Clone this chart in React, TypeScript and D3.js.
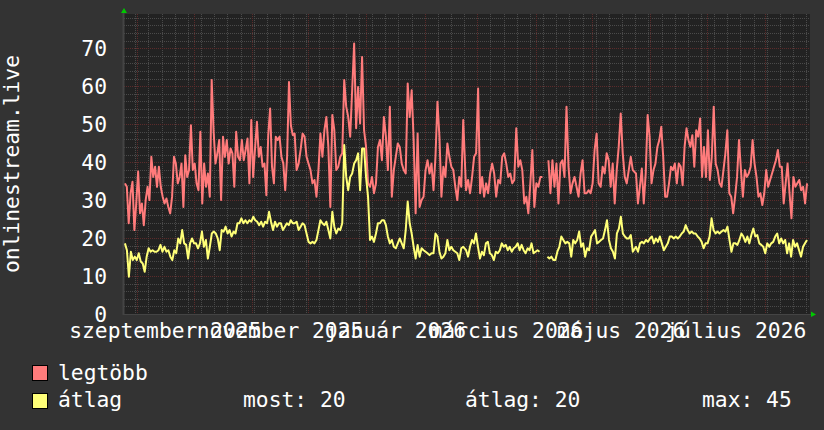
import React from 'react';
import * as d3 from 'd3';

// legtöbb (max) series, read in four date segments
const legtobb1 = [34.4, 33.5, 23.9, 31.8, 34.8, 22.1, 29.1, 37.5, 26.5, 29.1, 23.4, 30.0, 33.5, 30.0, 41.4, 36.1, 38.8, 33.5, 38.8, 33.5, 30.9, 29.1, 30.4, 28.2, 26.5, 30.9, 41.4, 39.6, 34.4, 36.1, 39.6, 28.2, 41.8, 36.1, 37.9, 49.7, 37.9, 39.6, 34.4, 32.6, 48.0, 29.1, 39.6, 33.5, 37.0, 30.9, 61.6, 48.4, 39.6, 42.3, 45.8, 30.0, 46.7, 41.4, 45.8, 39.6, 43.6, 42.3, 33.5, 48.0, 41.4, 40.5, 45.8, 40.5, 43.2, 46.2, 34.4, 51.1, 36.1, 43.6, 50.6, 41.4, 44.0, 38.8, 39.6, 31.3, 47.1, 54.1, 38.8, 34.4, 46.7, 45.8, 46.7, 41.4, 39.6, 32.6, 41.4, 61.1, 49.7, 47.1];
const legtobb2 = [47.5, 37.9, 39.6, 43.2, 47.5, 46.7, 41.4, 39.6, 37.9, 34.4, 35.3, 30.9, 37.9, 47.5, 41.4, 48.4, 51.9, 44.0, 28.2, 52.4, 48.4, 37.9, 38.8, 41.4, 42.3, 61.6, 54.6, 51.9, 46.7, 58.9, 71.2, 48.9, 59.8, 50.2, 67.7, 48.4, 44.0, 34.4, 33.5, 36.1, 31.8, 34.4, 44.0, 45.8, 40.5, 51.9, 46.7, 37.9, 54.6, 30.9, 37.9, 41.4, 44.9, 44.0, 39.6, 37.9, 37.0, 60.7, 51.9, 58.9, 45.8, 26.5, 47.5, 28.2, 30.0, 30.9, 37.9, 40.5, 37.0, 39.6, 32.6, 41.4, 55.9, 46.7, 30.9, 38.8, 36.1, 44.9, 41.4, 38.8, 37.9, 33.5, 30.0, 36.1, 33.5, 51.1];
const legtobb3 = [32.6, 35.3, 31.8, 36.1, 41.4, 42.3, 59.4, 31.8, 36.1, 30.9, 34.4, 31.8, 37.0, 39.6, 37.0, 30.9, 35.3, 34.4, 41.4, 42.3, 39.6, 36.1, 37.0, 34.4, 35.3, 48.9, 38.8, 40.5, 37.9, 29.1, 30.9, 26.5, 34.4, 43.2, 28.2, 34.4, 33.5, 36.1, 36.1, NaN, NaN, 40.5, 31.8, 40.5, 33.5, 39.6, 29.1, 39.6, 40.5, 36.1, 54.6, 38.8, 31.8, 34.4, 36.1, 33.5, 30.9, 37.0, 40.5, 31.8, 31.8, 32.6, 31.8, 34.4, 43.2, 47.5, 34.4, 33.5, 38.8, 37.0, 42.3, 40.5, 33.5, 39.6, 29.1, 37.9, 44.0, 52.8, 42.3, 36.1, 34.4, 37.9, 41.4, 37.9];
const legtobb4 = [37.0, 29.1, 33.5, 38.3, 29.1, 37.0, 52.4, 46.7, 34.4, 37.9, 39.6, 44.0, 45.8, 49.3, 41.4, 30.9, 30.9, 34.4, 38.8, 37.9, 39.6, 34.4, 39.6, 38.8, 33.9, 44.0, 48.9, 45.8, 44.0, 47.1, 38.8, 48.4, 46.7, 51.5, 36.1, 44.0, 36.1, 48.4, 35.3, 41.4, 54.6, 39.6, 37.9, 34.4, 33.5, 37.9, 42.3, 48.4, 31.8, 30.9, 26.5, 30.9, 36.1, 45.8, 37.9, 30.9, 37.9, 36.1, 37.0, 38.8, 45.8, 39.6, 36.1, 30.9, 31.8, 28.7, 31.8, 37.9, 33.5, 35.3, 37.0, 38.8, 40.5, 43.2, 38.8, 38.8, 29.1, 34.4, 39.6, 31.8, 25.2, 36.1, 33.5, 34.4, 35.3, 32.6, 33.5, 29.1, 34.4];

// átlag (average) series
const atlag1 = [18.6, 16.8, 9.8, 16.4, 14.2, 15.1, 14.2, 16.0, 13.8, 13.3, 11.1, 15.1, 17.3, 16.4, 16.8, 16.4, 16.4, 16.8, 18.2, 16.4, 17.7, 16.4, 16.8, 15.1, 14.2, 16.8, 16.0, 19.9, 18.6, 22.1, 18.6, 18.2, 14.6, 18.6, 19.9, 18.6, 18.6, 17.3, 18.6, 21.7, 17.7, 19.5, 14.6, 17.7, 21.2, 21.7, 21.2, 19.9, 16.8, 22.1, 21.7, 23.0, 21.2, 22.1, 20.4, 21.7, 21.2, 23.9, 23.9, 25.2, 23.9, 24.7, 23.9, 24.7, 24.3, 25.6, 24.7, 24.3, 23.4, 24.3, 23.0, 24.3, 23.9, 26.9, 24.3, 22.1, 24.3, 23.0, 23.9, 23.9, 22.1, 23.0, 23.9, 23.4, 24.7, 23.9];
const atlag2 = [23.9, 24.3, 22.1, 23.0, 23.9, 23.4, 21.2, 19.0, 18.6, 19.0, 18.6, 19.5, 22.1, 24.7, 23.9, 23.4, 24.3, 22.1, 19.9, 26.9, 23.0, 21.2, 22.5, 22.1, 23.9, 44.5, 36.1, 32.6, 36.1, 37.0, 39.6, 40.5, 42.3, 32.6, 43.6, 43.6, 36.1, 30.9, 19.5, 20.4, 19.0, 21.2, 23.9, 23.9, 24.7, 24.7, 23.4, 20.4, 18.6, 19.5, 17.7, 17.3, 18.6, 19.9, 18.6, 17.3, 22.1, 29.6, 23.9, 21.2, 17.7, 14.6, 18.2, 15.1, 17.3, 16.8, 16.4, 16.0, 15.5, 16.0, 16.0, 21.2, 20.4, 16.4, 14.6, 15.1, 16.0, 19.5, 16.8, 17.7, 16.8, 16.4, 16.0, 14.2, 17.3, 17.7];
const atlag3 = [16.8, 15.1, 17.7, 19.5, 18.6, 21.2, 17.7, 14.6, 16.4, 15.5, 18.6, 19.0, 16.0, 15.5, 14.2, 16.4, 16.0, 16.8, 18.6, 17.7, 18.2, 16.8, 17.7, 16.4, 17.3, 17.7, 18.6, 16.8, 18.2, 16.8, 16.0, 17.3, 16.8, 18.6, 16.0, 16.4, 16.8, 16.4, NaN, NaN, NaN, 15.1, 14.6, 15.1, 14.2, 14.2, 16.4, 17.7, 20.4, 19.5, 18.6, 19.0, 18.6, 15.1, 19.5, 18.6, 19.5, 21.7, 17.7, 18.6, 15.1, 17.3, 16.8, 20.4, 21.2, 22.1, 18.6, 19.0, 19.5, 19.9, 22.1, 24.7, 19.5, 17.3, 16.4, 14.6, 21.2, 22.5, 25.6, 21.2, 20.4, 19.9, 19.9, 20.8, 16.4];
const atlag4 = [17.7, 16.4, 18.6, 19.0, 18.6, 19.5, 19.0, 19.9, 20.4, 18.6, 19.9, 19.0, 20.4, 18.6, 16.8, 17.7, 18.6, 20.4, 20.4, 19.9, 20.4, 19.9, 20.4, 21.2, 21.7, 23.4, 22.1, 21.2, 21.7, 21.2, 21.2, 20.4, 19.9, 19.0, 17.3, 18.6, 18.6, 20.4, 25.2, 22.1, 21.2, 21.7, 21.2, 21.7, 22.1, 21.7, 23.0, 19.5, 16.4, 18.6, 18.6, 18.2, 19.5, 21.2, 20.4, 19.0, 20.4, 18.6, 20.8, 22.5, 20.4, 20.8, 18.6, 18.2, 17.7, 16.0, 18.6, 17.7, 18.6, 19.0, 20.4, 21.2, 18.6, 19.9, 18.6, 19.5, 16.0, 18.6, 15.1, 19.5, 17.7, 18.6, 16.8, 15.1, 17.7, 18.6, 19.5];

// time span of each data segment
const segStarts = ['2025-08-25T12:00', '2025-11-23T19:00', '2026-02-23T00:00', '2026-05-24T10:00'];
const segEnds = ['2025-11-22T19:00', '2026-02-21T12:00', '2026-05-22T17:00', '2026-08-23T10:00'];

const yTicks = [0, 10, 20, 30, 40, 50, 60, 70];
const monthNames = ['január', 'február', 'március', 'április', 'május', 'június', 'július', 'augusztus', 'szeptember', 'október', 'november', 'december'];
const legendStats = ['most: 20', 'átlag: 20', 'max: 45'];

const W = 824;
const H = 430;
const left = 124, right = 810, top = 14, bottom = 314;
const FONT = '"DejaVu Sans Mono", monospace';
const FS = 21.3;

type Pt = { t: Date; v: number };

const toPoints = (segs: number[][]): Pt[] => {
  const pts: Pt[] = [];
  segs.forEach((vals, i) => {
    const s = new Date(segStarts[i]).getTime();
    const e = new Date(segEnds[i]).getTime();
    const idx = d3.scaleLinear().domain([0, vals.length - 1]).range([s, e]);
    vals.forEach((v, j) => pts.push({ t: new Date(idx(j)), v }));
  });
  return pts;
};

const App: React.FC = () => {
  const t0 = new Date(2025, 7, 25);
  const t1 = new Date(2026, 7, 25);
  const x = d3.scaleTime().domain([t0, t1]).range([left, right]);
  const y = d3.scaleLinear().domain([0, 79]).range([bottom, top]);

  const maxPts = toPoints([legtobb1, legtobb2, legtobb3, legtobb4]);
  const avgPts = toPoints([atlag1, atlag2, atlag3, atlag4]);

  const line = d3.line<Pt>()
    .defined(d => !isNaN(d.v))
    .x(d => x(d.t))
    .y(d => y(d.v));

  const weeks = d3.timeSunday.range(t0, t1);
  const months = d3.timeMonth.range(d3.timeMonth.ceil(t0), t1);
  const minorY = d3.range(0, 79, 2).filter(v => v % 10 !== 0);
  const labelMonths = months.filter(m => m.getMonth() % 2 === 0);
  const px = (v: number) => Math.round(v) + 0.5;

  return (
    <svg width={W} height={H} style={{ display: 'block', position: 'absolute', left: 0, top: 0 }}>
      <rect x={0} y={0} width={W} height={H} fill="#333333" />
      <rect x={left} y={top} width={right - left} height={bottom - top} fill="#222222" />

      {/* minor grid */}
      <g stroke="#4a4a4a" strokeWidth={1} strokeDasharray="1,1">
        {minorY.map(v => (
          <line key={'hy' + v} x1={left} x2={right} y1={px(y(v))} y2={px(y(v))} />
        ))}
        {weeks.map(w => (
          <line key={'wx' + +w} x1={px(x(w))} x2={px(x(w))} y1={top} y2={bottom} />
        ))}
      </g>
      {/* major grid */}
      <g stroke="#5c2b2b" strokeWidth={1} strokeDasharray="1,1">
        {yTicks.filter(v => v > 0).map(v => (
          <line key={'My' + v} x1={left} x2={right} y1={px(y(v))} y2={px(y(v))} />
        ))}
        {months.map(m => (
          <line key={'Mx' + +m} x1={px(x(m))} x2={px(x(m))} y1={top} y2={bottom} />
        ))}
      </g>

      {/* axes */}
      <line x1={left - 0.5} x2={left - 0.5} y1={top - 4} y2={bottom + 1} stroke="#444444" strokeWidth={2} />
      <line x1={left} x2={right + 3} y1={bottom + 0.5} y2={bottom + 0.5} stroke="#444444" strokeWidth={1} />
      <polygon points={`${left - 3},${top - 1} ${left + 3},${top - 1} ${left},${top - 6}`} fill="#00c800" />
      <polygon points={`${right + 1},${bottom - 2.5} ${right + 1},${bottom + 3} ${right + 6},${bottom + 0.5}`} fill="#00c800" />

      {/* series */}
      <path d={line(maxPts) || ''} fill="none" stroke="#ff7b7b" strokeWidth={2} strokeLinejoin="round" />
      <path d={line(avgPts) || ''} fill="none" stroke="#ffff78" strokeWidth={2} strokeLinejoin="round" />

      {/* y labels */}
      <g fontFamily={FONT} fontSize={FS} fill="#ffffff" textAnchor="end">
        {yTicks.map(v => (
          <text key={'yl' + v} x={107} y={y(v) + 7.8}>{v}</text>
        ))}
      </g>
      <text
        transform="translate(19,164) rotate(-90)"
        textAnchor="middle"
        fontFamily={FONT}
        fontSize={FS}
        fill="#ffffff"
      >onlinestream.live</text>

      {/* x labels, centred in the month */}
      <g fontFamily={FONT} fontSize={FS} fill="#ffffff" textAnchor="middle">
        {labelMonths.map(m => {
          const mid = (x(m) + x(d3.timeMonth.offset(m, 1))) / 2;
          return (
            <text key={'xl' + +m} x={mid} y={338}>{`${monthNames[m.getMonth()]} ${m.getFullYear()}`}</text>
          );
        })}
      </g>

      {/* legend */}
      <rect x={32.5} y={365.5} width={15} height={15} fill="#ff7b7b" stroke="#000" />
      <rect x={32.5} y={393.5} width={15} height={15} fill="#ffff78" stroke="#000" />
      <g fontFamily={FONT} fontSize={FS} fill="#ffffff">
        <text x={58} y={380}>legtöbb</text>
        <text x={58} y={407}>átlag</text>
        <text x={243} y={407}>{legendStats[0]}</text>
        <text x={465} y={407}>{legendStats[1]}</text>
        <text x={702} y={407}>{legendStats[2]}</text>
      </g>
    </svg>
  );
};

export default App;
